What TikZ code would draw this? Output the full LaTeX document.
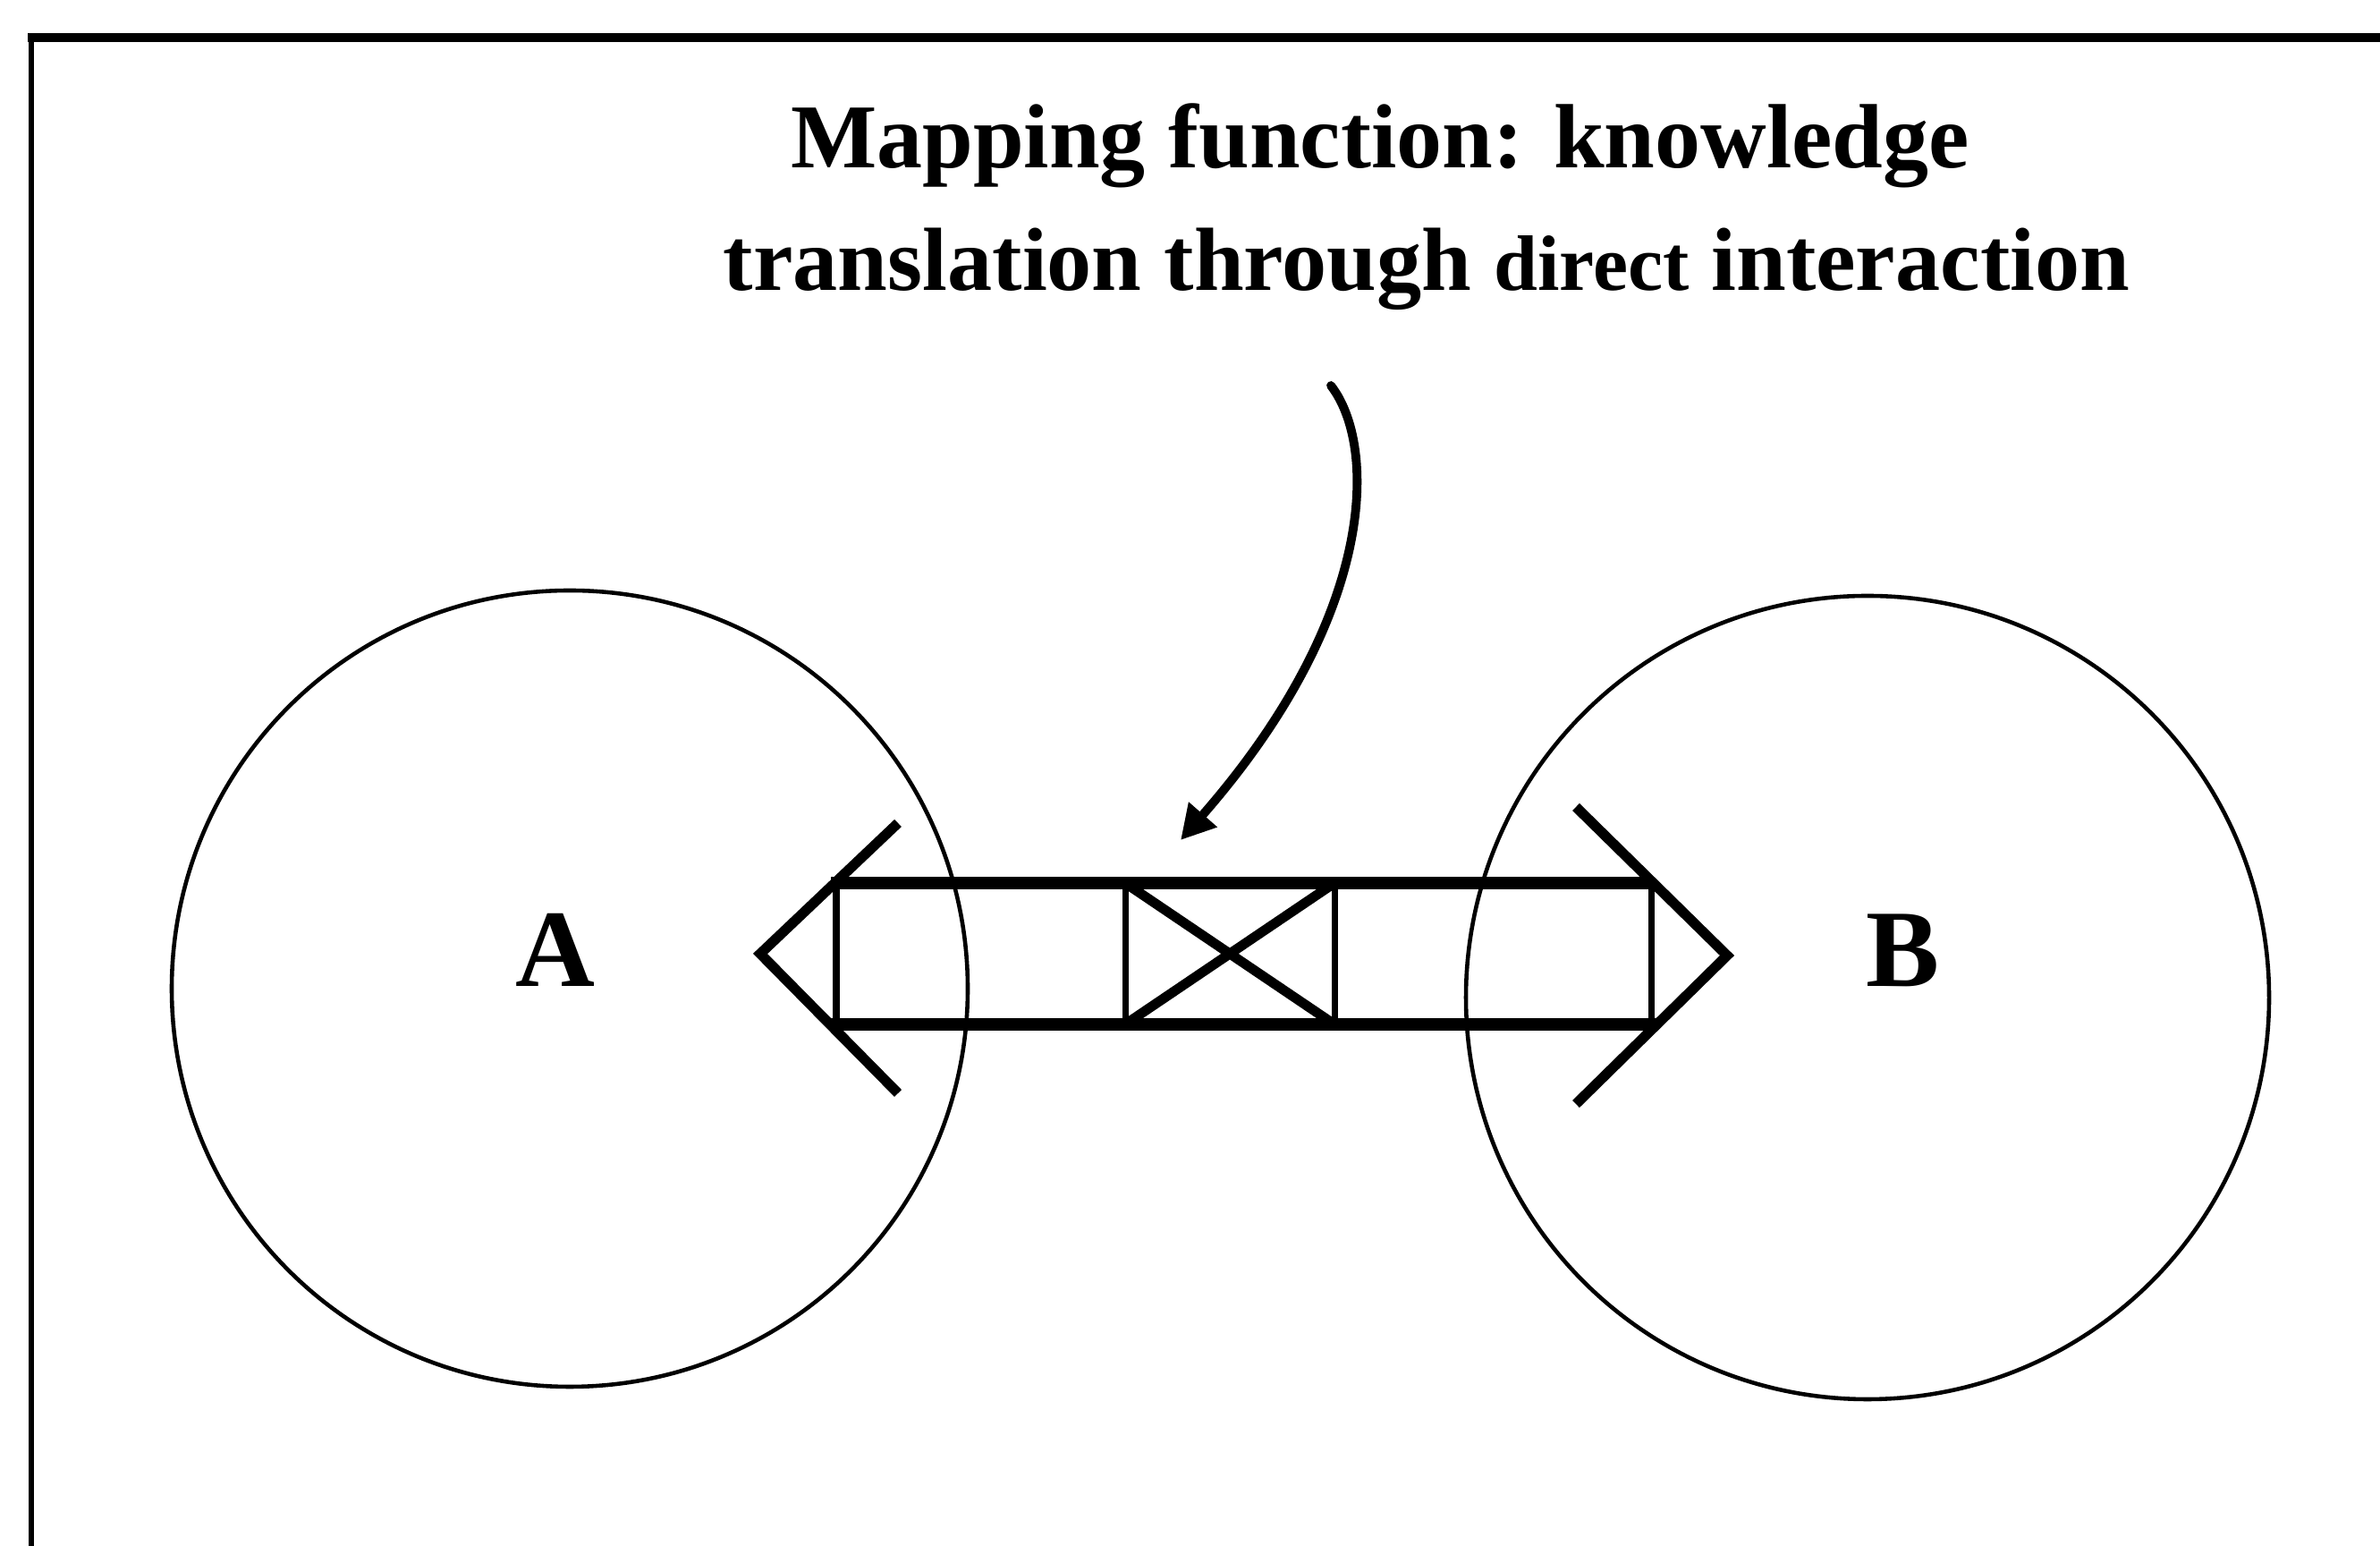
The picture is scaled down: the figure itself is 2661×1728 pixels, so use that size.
\documentclass[tikz,border=0pt]{standalone}
\usepackage{fontspec}
\setmainfont{Liberation Serif}
\usetikzlibrary{arrows.meta,calc}

\tikzset{
    rail/.style={line width=3.8pt},
    rung/.style={line width=2pt},
    chevron/.style={line width=3.2pt, line join=miter},
    ring/.style={line width=1.3pt},
    heading/.style={font=\bfseries\fontsize{29}{34}\selectfont, anchor=base, inner sep=0pt},
    letter/.style={font=\bfseries\fontsize{35}{40}\selectfont, anchor=base, inner sep=0pt}
}

\begin{document}
\begin{tikzpicture}[x=0.01cm, y=0.01cm]
    \useasboundingbox (0,0) rectangle (2661,1728);
    \draw[line width=1.8pt] (35,0) -- (35,1686);
    \draw[line width=2.6pt] (31,1686) -- (2661,1686);
    \coordinate (cA) at (637,623);
    \coordinate (cB) at (2088,613);
    \draw[ring] (cA) circle (445);
    \draw[ring] (cB) circle (449);
    \coordinate (tl) at (935,741); \coordinate (tr) at (1846,741);
    \coordinate (bl) at (935,583); \coordinate (br) at (1846,583);
    \coordinate (x1t) at (1258,741); \coordinate (x2t) at (1492,741);
    \coordinate (x1b) at (1258,583); \coordinate (x2b) at (1492,583);
    \draw[rail] ($(tl)+(-6,0)$) -- (tr);
    \draw[rail] ($(bl)+(-6,0)$) -- ($(br)+(8,0)$);
    \foreach \x in {935,1258,1492,1846} {\draw[rung] (\x,583) -- (\x,741);}
    \draw[line width=3.1pt] (x1t) -- (x2b) (x1b) -- (x2t);
    \coordinate (tipL) at (850,662);
    \coordinate (tipR) at (1931,660);
    \draw[chevron] (1004,808) -- (tipL) -- (1004,506);
    \draw[chevron] (1762,826) -- (tipR) -- (1762,494);
    \node[heading] (title1) at (1543,1540) {Mapping function: knowledge};
    \node[heading, font=\bfseries\fontsize{28.5}{34}\selectfont] (title2) at (1595,1403) {translation through {\fontsize{25}{30}\selectfont direct} interaction};
    \node[letter] (A) at (621,625) {A};
    \node[letter] (B) at (2128,625) {B};
    \coordinate (arrStart) at (1488,1297);
    \coordinate (arrEnd) at (1320,789);
    \draw[line width=2.8pt, line cap=round, -{Triangle[length=0.38cm,width=0.4cm]}] (arrStart) .. controls (1540,1230) and (1540,1040) .. (arrEnd);
\end{tikzpicture}
\end{document}
